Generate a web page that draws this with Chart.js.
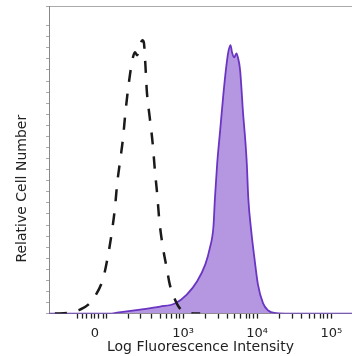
<!DOCTYPE html>
<html>
<head>
<meta charset="utf-8">
<script src="https://cdn.jsdelivr.net/npm/chart.js@4/dist/chart.umd.min.js"></script>
<style>
  html, body { margin: 0; padding: 0; background: #fff; }
  #wrap { width: 352px; height: 356px; }
</style>
</head>
<body>
<div id="wrap"><canvas id="histChart"></canvas></div>
<script>
// x is in display decades (logicle-like): 3 = 10^3, 4 = 10^4, 5 = 10^5, 1.81 = 0
// y is relative cell number in % of the axis height
var isotypeX = [1.27, 1.47, 1.61, 1.72, 1.81, 1.92, 1.99, 2.04, 2.08, 2.11, 2.15, 2.19, 2.22, 2.26, 2.31, 2.35, 2.38, 2.41, 2.45, 2.47, 2.49, 2.51, 2.55, 2.59, 2.62, 2.65, 2.68, 2.73, 2.78, 2.82, 2.89, 2.96, 3.07, 3.23];
var isotypeY = [0, 0.3, 1.3, 2.9, 5.6, 11.4, 19.3, 26.8, 34.3, 42.2, 49.7, 57.2, 65.0, 73.5, 81.7, 85.0, 84.0, 86.3, 88.9, 88.2, 81.4, 72.5, 63.7, 55.2, 46.4, 38.9, 30.1, 21.2, 14.7, 9.5, 4.6, 1.6, 0.3, 0];

var stainedX = [1.19, 2.01, 2.11, 2.24, 2.42, 2.69, 2.89, 3.05, 3.19, 3.30, 3.36, 3.41, 3.43, 3.46, 3.50, 3.54, 3.58, 3.61, 3.64, 3.66, 3.69, 3.72, 3.74, 3.77, 3.81, 3.84, 3.86, 3.88, 3.92, 3.96, 4.01, 4.08, 4.15, 4.23, 4.38, 5.28];
var stainedY = [0, 0, 0.3, 0.7, 1.3, 2.3, 3.3, 6.2, 10.5, 16.0, 21.2, 28.4, 37.6, 48.7, 59.5, 70.3, 79.7, 85.0, 87.3, 85.0, 83.3, 84.6, 83.3, 79.1, 65.0, 56.2, 48.7, 37.6, 26.8, 18.6, 9.5, 3.3, 1.0, 0.2, 0, 0];

var majorTicks = [1.81, 3, 4, 5];
var majorLabels = ['0', '10³', '10⁴', '10⁵'];
var minorTicks = [1.57, 1.64, 1.70, 1.76, 1.86, 1.92, 1.97, 2.26, 2.42, 2.58, 2.69, 2.78, 2.85, 2.91, 2.95,
  3.30, 3.48, 3.60, 3.70, 3.78, 3.85, 3.90, 3.95, 4.30, 4.48, 4.60, 4.70, 4.78, 4.85, 4.90, 4.95];

var xMin = 1.19, xMax = 5.28;

function toPoints(xs, ys) {
  var pts = [];
  for (var i = 0; i < xs.length; i++) {
    pts.push({ x: xs[i], y: ys[i] });
  }
  return pts;
}

var allTicks = majorTicks.concat(minorTicks).sort(function(a, b) { return a - b; });

var ctx = document.getElementById('histChart').getContext('2d');
var chart = new Chart(ctx, {
  type: 'line',
  data: {
    datasets: [{
      label: 'Isotype',
      data: toPoints(isotypeX, isotypeY),
      borderColor: '#1a1a1a',
      borderWidth: 2.5,
      borderDash: [12, 12],
      pointRadius: 0,
      cubicInterpolationMode: 'monotone',
      fill: false
    },
    {
      label: 'Stained',
      data: toPoints(stainedX, stainedY),
      borderColor: '#6a35c2',
      borderWidth: 1.8,
      backgroundColor: '#b597e1',
      pointRadius: 0,
      cubicInterpolationMode: 'monotone',
      fill: 'origin'
    }]
  },
  options: {
    responsive: true,
    maintainAspectRatio: false,
    animation: false,
    layout: { padding: { left: 6, top: 6, right: 0, bottom: 0 } },
    plugins: {
      legend: { display: false },
      tooltip: { enabled: false }
    },
    scales: {
      x: {
        type: 'linear',
        position: 'bottom',
        min: xMin,
        max: xMax,
        afterBuildTicks: function(scale) {
          scale.ticks = allTicks.map(function(v) { return { value: v }; });
        },
        ticks: {
          autoSkip: false,
          maxRotation: 0,
          padding: 7,
          color: '#222',
          font: { family: 'DejaVu Sans', size: 13 },
          callback: function(value) {
            var i = majorTicks.indexOf(value);
            return i >= 0 ? majorLabels[i] : '';
          }
        },
        grid: { drawOnChartArea: false, tickLength: 5, tickColor: '#222', tickWidth: 1.3 },
        border: { color: '#888' },
        title: {
          display: true,
          text: 'Log Fluorescence Intensity',
          color: '#222',
          font: { family: 'DejaVu Sans', size: 14 },
          padding: { top: -9, bottom: 0 }
        }
      },
      xTop: {
        type: 'linear',
        position: 'top',
        min: xMin,
        max: xMax,
        ticks: { display: false },
        grid: { display: false, drawTicks: false },
        border: { color: '#aaa' }
      },
      y: {
        min: 0,
        max: 100,
        ticks: { display: false, stepSize: 3.6 },
        grid: { drawOnChartArea: false, tickLength: 3, tickColor: '#aaa' },
        border: { color: '#888' },
        title: {
          display: true,
          text: 'Relative Cell Number             ',
          color: '#222',
          font: { family: 'DejaVu Sans', size: 14 },
          padding: { top: 7.6, bottom: 15.6 }
        }
      }
    }
  }
});
</script>
</body>
</html>
